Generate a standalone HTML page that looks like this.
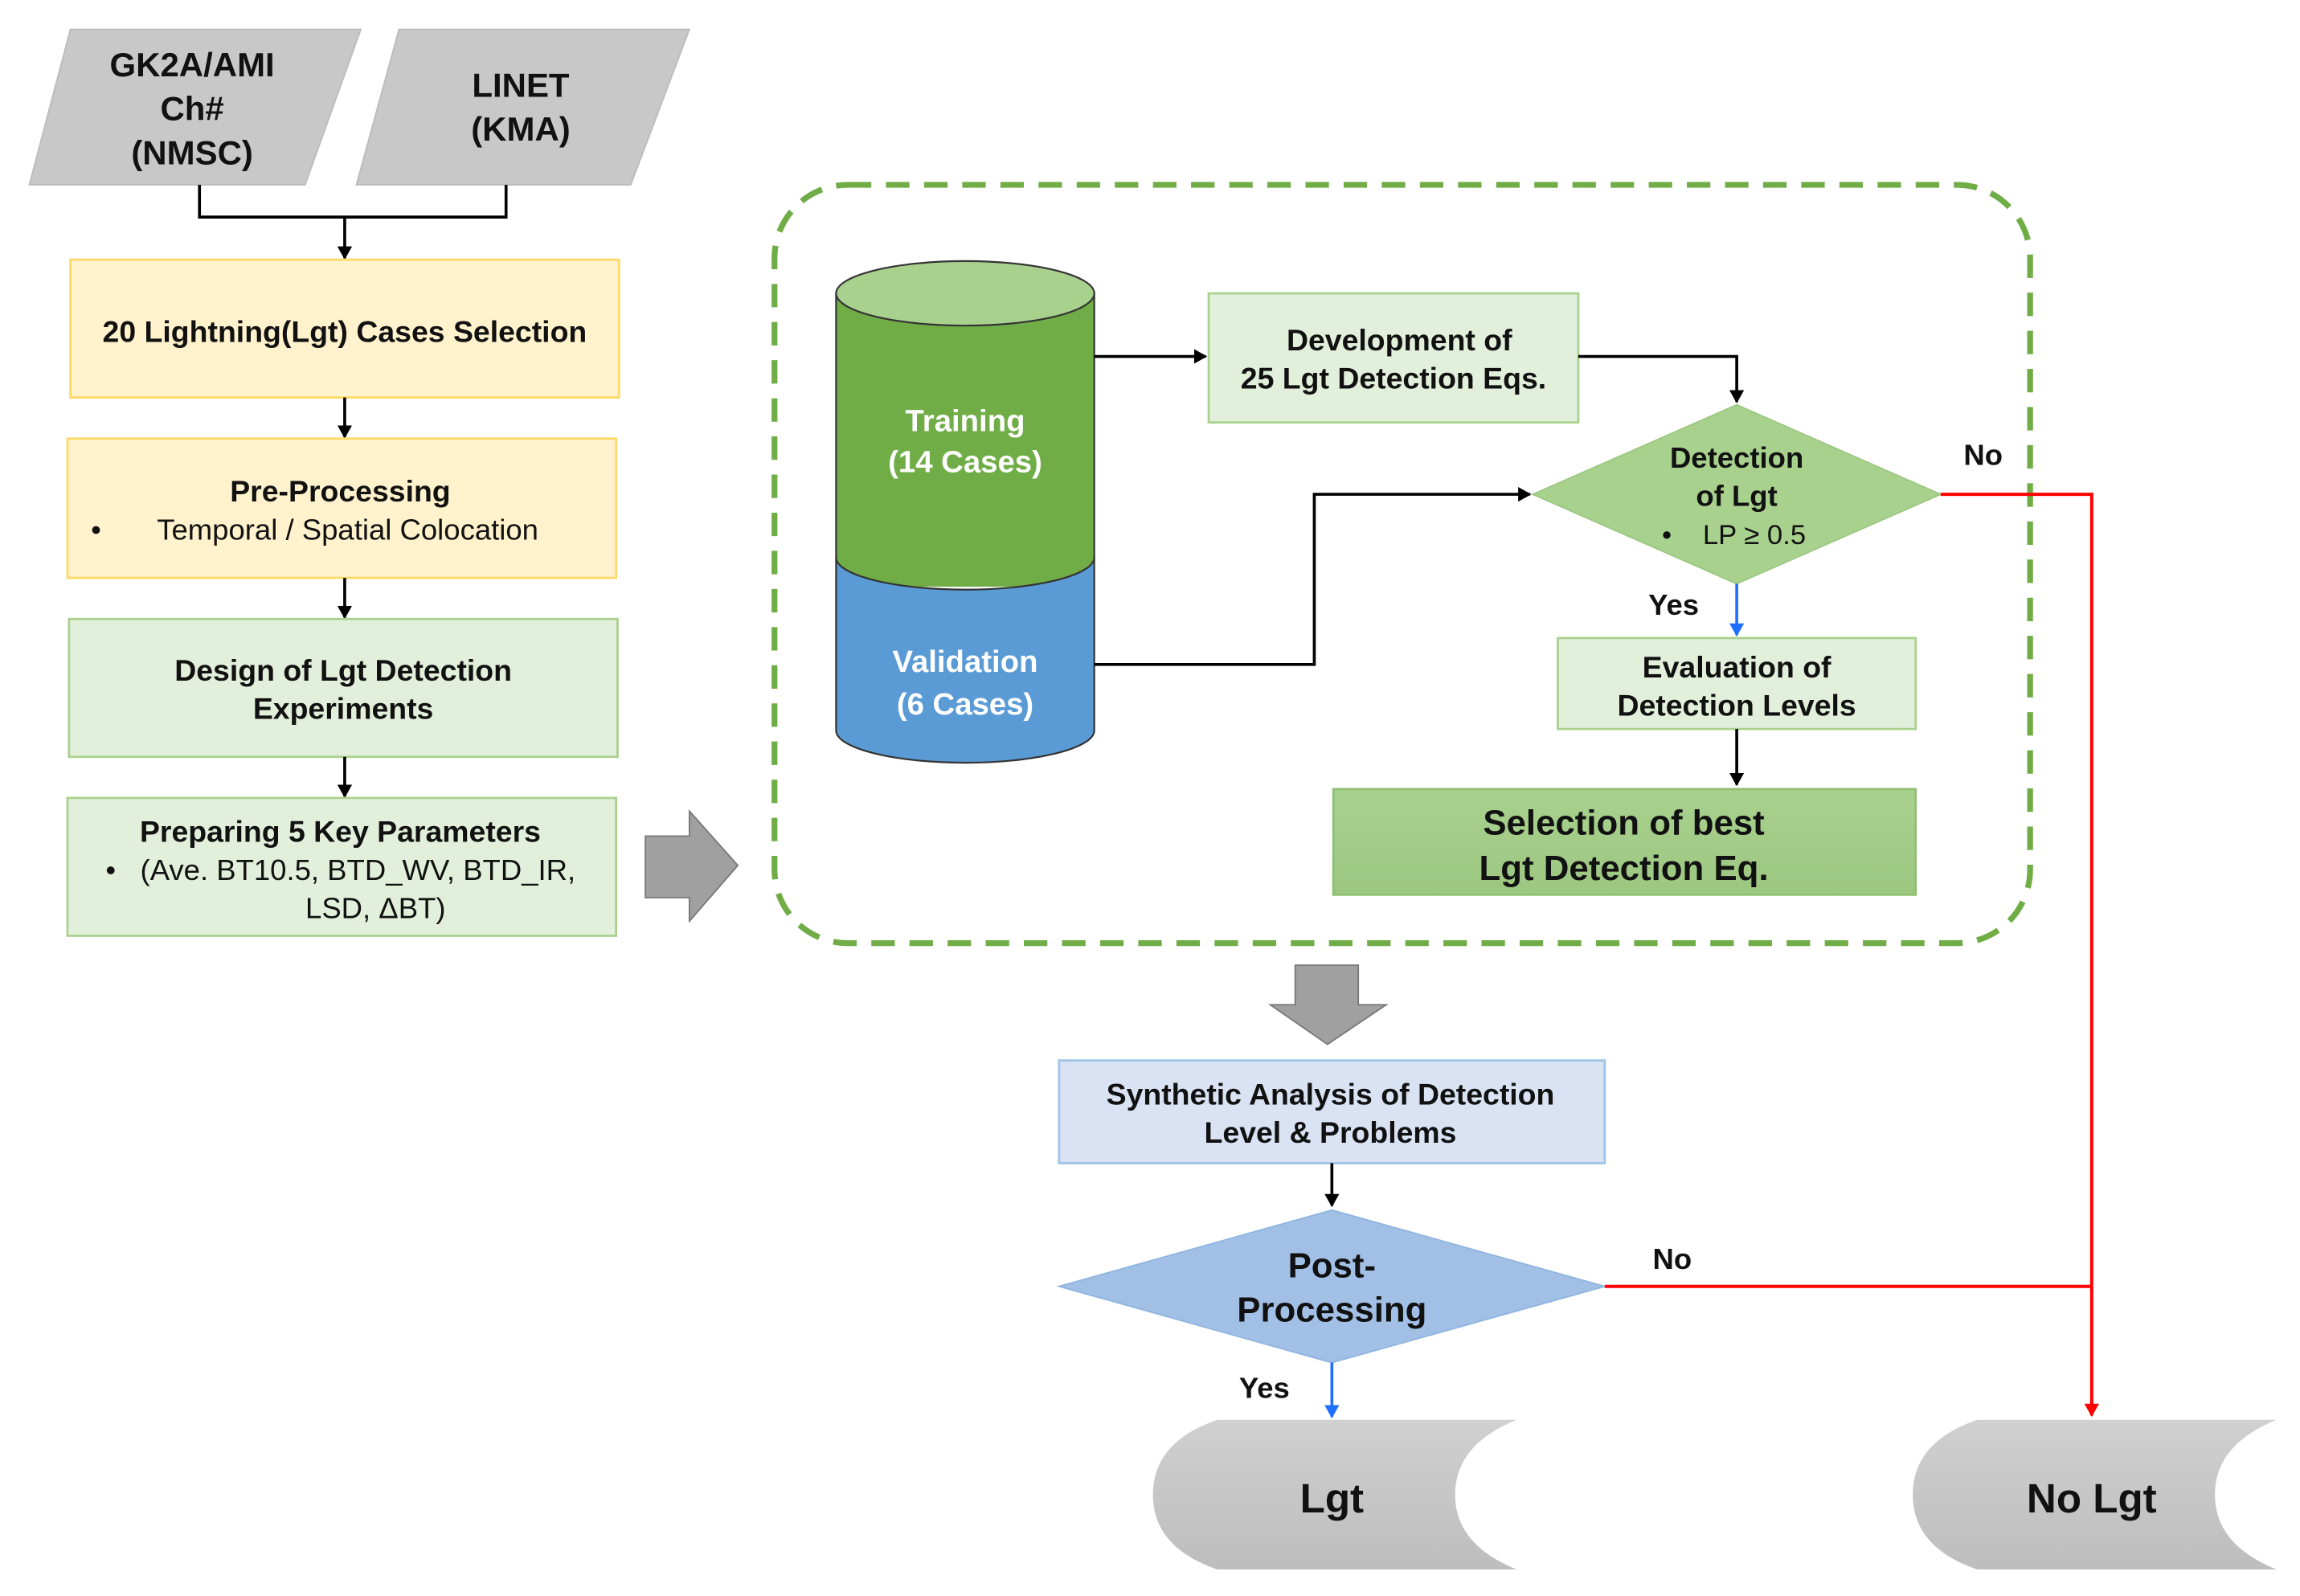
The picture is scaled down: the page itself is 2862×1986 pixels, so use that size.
<!DOCTYPE html>
<html><head><meta charset="utf-8"><style>
html,body{margin:0;padding:0;background:#fff}
svg{display:block}
text{font-family:"Liberation Sans","DejaVu Sans",sans-serif;fill:#111}
.b{font-weight:bold}
</style></head><body>
<svg width="2862" height="1986" viewBox="0 0 1568 1088.1" preserveAspectRatio="none" xmlns="http://www.w3.org/2000/svg">
<defs>
<marker id="ak" markerWidth="10" markerHeight="10" refX="8" refY="5" orient="auto" markerUnits="userSpaceOnUse"><path d="M0,0 L9,5 L0,10 z" fill="#000"/></marker>
<marker id="ab" markerWidth="10" markerHeight="10" refX="8" refY="5" orient="auto" markerUnits="userSpaceOnUse"><path d="M0,0 L9,5 L0,10 z" fill="#1f6fff"/></marker>
<marker id="ar" markerWidth="10" markerHeight="10" refX="8" refY="5" orient="auto" markerUnits="userSpaceOnUse"><path d="M0,0 L9,5 L0,10 z" fill="#f00"/></marker>
<linearGradient id="gs" x1="0" y1="0" x2="0" y2="1"><stop offset="0" stop-color="#a9d18e"/><stop offset="1" stop-color="#9cc781"/></linearGradient>
<linearGradient id="gc" x1="0" y1="0" x2="0" y2="1"><stop offset="0" stop-color="#d0d0d0"/><stop offset="1" stop-color="#bdbdbd"/></linearGradient>
</defs>

<polygon points="48,20 246,20 208,126 20,126" fill="#c8c8c8" stroke="#bbb"/>
<polygon points="272,20 470,20 430,126 243,126" fill="#c8c8c8" stroke="#bbb"/>
<g font-size="23" text-anchor="middle">
<text x="131" y="52" class="b">GK2A/AMI</text>
<text x="131" y="82" class="b">Ch#</text>
<text x="131" y="112" class="b">(NMSC)</text>
<text x="355" y="66" class="b">LINET</text>
<text x="355" y="96" class="b">(KMA)</text>
</g>
<polyline points="136,126 136,148 345,148 345,126" fill="none" stroke="#000" stroke-width="2"/>
<line x1="235" y1="148" x2="235" y2="176" stroke="#000" stroke-width="2" marker-end="url(#ak)"/>

<rect x="48" y="177" width="374" height="94" fill="#fff2cc" stroke="#ffd966" stroke-width="1.5"/>
<text x="235" y="233" font-size="20.5" text-anchor="middle" class="b">20 Lightning(Lgt) Cases Selection</text>
<line x1="235" y1="271" x2="235" y2="298" stroke="#000" stroke-width="2" marker-end="url(#ak)"/>
<rect x="46" y="299" width="374" height="95" fill="#fff2cc" stroke="#ffd966" stroke-width="1.5"/>
<text x="232" y="342" font-size="20.5" text-anchor="middle" class="b">Pre-Processing</text>
<text x="62" y="368" font-size="20">•</text>
<text x="237" y="368" font-size="20" text-anchor="middle">Temporal / Spatial Colocation</text>
<line x1="235" y1="394" x2="235" y2="421" stroke="#000" stroke-width="2" marker-end="url(#ak)"/>
<rect x="47" y="422" width="374" height="94" fill="#e2efda" stroke="#a9d18e" stroke-width="1.5"/>
<text x="234" y="464" font-size="20.5" text-anchor="middle" class="b">Design of Lgt Detection</text>
<text x="234" y="490" font-size="20.5" text-anchor="middle" class="b">Experiments</text>
<line x1="235" y1="516" x2="235" y2="543" stroke="#000" stroke-width="2" marker-end="url(#ak)"/>
<rect x="46" y="544" width="374" height="94" fill="#e2efda" stroke="#a9d18e" stroke-width="1.5"/>
<text x="232" y="574" font-size="20.5" text-anchor="middle" class="b">Preparing 5 Key Parameters</text>
<text x="72" y="600" font-size="20">•</text>
<text x="244" y="600" font-size="20" text-anchor="middle">(Ave. BT10.5, BTD_WV, BTD_IR,</text>
<text x="256" y="626" font-size="20" text-anchor="middle">LSD, ΔBT)</text>

<polygon points="440,570 470,570 470,553 503,590 470,628 470,612 440,612" fill="#a0a0a0" stroke="#777" stroke-width="1"/>

<rect x="528" y="126" width="856" height="517" rx="50" ry="50" fill="none" stroke="#70ad47" stroke-width="4" stroke-dasharray="16 10"/>

<rect x="570" y="200" width="176" height="200" fill="#70ad47"/>
<path d="M570,380 A88,22 0 0 0 746,380 L746,498 A88,22 0 0 1 570,498 z" fill="#5b9bd5"/>
<path d="M570,380 A88,22 0 0 0 746,380" fill="none" stroke="#333" stroke-width="1.2"/>
<path d="M746,498 A88,22 0 0 1 570,498" fill="none" stroke="#333" stroke-width="1.2"/>
<line x1="570" y1="200" x2="570" y2="498" stroke="#333" stroke-width="1.2"/>
<line x1="746" y1="200" x2="746" y2="498" stroke="#333" stroke-width="1.2"/>
<ellipse cx="658" cy="200" rx="88" ry="22" fill="#a9d18e" stroke="#333" stroke-width="1.2"/>
<g font-size="21" text-anchor="middle">
<text x="658" y="294" style="fill:#fff" class="b">Training</text>
<text x="658" y="322" style="fill:#fff" class="b">(14 Cases)</text>
<text x="658" y="458" style="fill:#fff" class="b">Validation</text>
<text x="658" y="487" style="fill:#fff" class="b">(6 Cases)</text>
</g>

<line x1="746" y1="243" x2="822" y2="243" stroke="#000" stroke-width="2" marker-end="url(#ak)"/>
<rect x="824" y="200" width="252" height="88" fill="#e2efda" stroke="#a9d18e" stroke-width="1.5"/>
<text x="954" y="239" font-size="20.5" text-anchor="middle" class="b">Development of</text>
<text x="950" y="265" font-size="20.5" text-anchor="middle" class="b">25 Lgt Detection Eqs.</text>
<polyline points="1076,243 1184,243 1184,274" fill="none" stroke="#000" stroke-width="2" marker-end="url(#ak)"/>

<polygon points="1184,276 1323,337 1184,398 1045,337" fill="#a9d18e" stroke="#9cc781"/>
<text x="1184" y="319" font-size="20" text-anchor="middle" class="b">Detection</text>
<text x="1184" y="345" font-size="20" text-anchor="middle" class="b">of Lgt</text>
<text x="1133" y="371" font-size="19">•</text>
<text x="1196" y="371" font-size="19" text-anchor="middle">LP ≥ 0.5</text>

<polyline points="746,453 896,453 896,337 1043,337" fill="none" stroke="#000" stroke-width="2" marker-end="url(#ak)"/>

<text x="1141" y="419" font-size="20" text-anchor="middle" class="b">Yes</text>
<line x1="1184" y1="398" x2="1184" y2="433" stroke="#1f6fff" stroke-width="2" marker-end="url(#ab)"/>
<rect x="1062" y="435" width="244" height="62" fill="#e2efda" stroke="#a9d18e" stroke-width="1.5"/>
<text x="1184" y="462" font-size="20.5" text-anchor="middle" class="b">Evaluation of</text>
<text x="1184" y="488" font-size="20.5" text-anchor="middle" class="b">Detection Levels</text>
<line x1="1184" y1="497" x2="1184" y2="535" stroke="#000" stroke-width="2" marker-end="url(#ak)"/>
<rect x="909" y="538" width="397" height="72" fill="url(#gs)" stroke="#8fbf72" stroke-width="1.5"/>
<text x="1107" y="569" font-size="24" text-anchor="middle" class="b">Selection of best</text>
<text x="1107" y="600" font-size="24" text-anchor="middle" class="b">Lgt Detection Eq.</text>

<text x="1352" y="317" font-size="20" text-anchor="middle" class="b">No</text>
<polyline points="1323,337 1426,337 1426,965" fill="none" stroke="#f00" stroke-width="2.2" marker-end="url(#ar)"/>

<polygon points="883,658 926,658 926,685 945,685 905,712 866,685 883,685" fill="#a0a0a0" stroke="#777" stroke-width="1"/>

<rect x="722" y="723" width="372" height="70" fill="#dae3f3" stroke="#9dc3e6" stroke-width="1.5"/>
<text x="907" y="753" font-size="20.5" text-anchor="middle" class="b">Synthetic Analysis of Detection</text>
<text x="907" y="779" font-size="20.5" text-anchor="middle" class="b">Level &amp; Problems</text>
<line x1="908" y1="793" x2="908" y2="822" stroke="#000" stroke-width="2" marker-end="url(#ak)"/>

<polygon points="908,825 1094,877 908,929 722,877" fill="#a2c0e6" stroke="#8fb4e0"/>
<text x="908" y="871" font-size="24" text-anchor="middle" class="b">Post-</text>
<text x="908" y="901" font-size="24" text-anchor="middle" class="b">Processing</text>

<text x="1140" y="865" font-size="20" text-anchor="middle" class="b">No</text>
<line x1="1094" y1="877" x2="1426" y2="877" stroke="#f00" stroke-width="2.2"/>
<text x="862" y="953" font-size="20" text-anchor="middle" class="b">Yes</text>
<line x1="908" y1="929" x2="908" y2="966" stroke="#1f6fff" stroke-width="2" marker-end="url(#ab)"/>

<path d="M830,968 L1034,968 Q992,985 992,1019 Q992,1053 1034,1070 L830,1070 Q786,1055 786,1019 Q786,983 830,968 z" fill="url(#gc)"/>
<text x="908" y="1031" font-size="28" text-anchor="middle" class="b">Lgt</text>
<path d="M1348,968 L1552,968 Q1510,985 1510,1019 Q1510,1053 1552,1070 L1348,1070 Q1304,1055 1304,1019 Q1304,983 1348,968 z" fill="url(#gc)"/>
<text x="1426" y="1031" font-size="28" text-anchor="middle" class="b">No Lgt</text>
</svg>
</body></html>
